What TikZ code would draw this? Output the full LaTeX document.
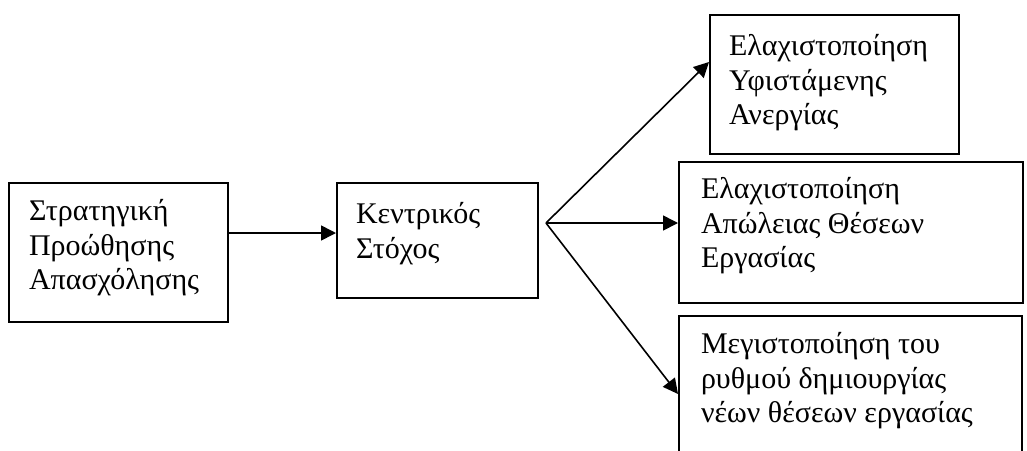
\documentclass[tikz,border=0pt]{standalone}
\usepackage{fontspec}
\setmainfont{Liberation Serif}
\usetikzlibrary{arrows.meta}
% #1 width, #2 height, #3 top space, #4 left pad, #5 text
\newcommand\bxtext[5]{\hspace*{#4}\parbox[c][#2][t]{\dimexpr#1-#4\relax}{\raggedright\fontsize{15pt}{17.25pt}\selectfont\vspace*{#3}\strut #5}}
\tikzset{
  boxnode/.style={draw, line width=1pt, inner sep=0pt, anchor=north west},
  arr/.style={line width=0.8pt, -{Triangle[length=7.5pt,width=7.5pt]}},
}
\begin{document}
\begin{tikzpicture}[x=0.5pt,y=-0.5pt]
\useasboundingbox (0,0) rectangle (1027,450);
\clip (0,0) rectangle (1027,450);
\node[boxnode] (b1) at (8,182) {\bxtext{109.5pt}{69.5pt}{6.9pt}{10pt}{Στρατηγική\\Προώθησης\\Απασχόλησης}};
\node[boxnode] (b2) at (336,182) {\bxtext{100.5pt}{57.5pt}{8.4pt}{9.5pt}{Κεντρικός\\Στόχος}};
\node[boxnode] (b3) at (709,14) {\bxtext{124.5pt}{69.5pt}{8.4pt}{9.5pt}{Ελαχιστοποίηση\\Υφιστάμενης\\Ανεργίας}};
\node[boxnode] (b4) at (678,161) {\bxtext{172pt}{70.5pt}{6.4pt}{11pt}{Ελαχιστοποίηση\\Απώλειας Θέσεων\\Εργασίας}};
\node[boxnode] (b5) at (678,315) {\bxtext{171.5pt}{82.5pt}{6.9pt}{11pt}{Μεγιστοποίηση του\\ρυθμού δημιουργίας\\νέων θέσεων εργασίας}};
\coordinate (fork) at (546,223);
\coordinate (l1) at (0,233);
\coordinate (l3) at (0,62);
\coordinate (l5) at (0,394);
\draw[arr] (b1.east |- l1) -- (b2.west |- l1);
\draw[arr] (fork) -- (b3.west |- l3);
\draw[arr] (fork) -- (b4.west |- fork);
\draw[arr] (fork) -- (b5.west |- l5);
\end{tikzpicture}
\end{document}
